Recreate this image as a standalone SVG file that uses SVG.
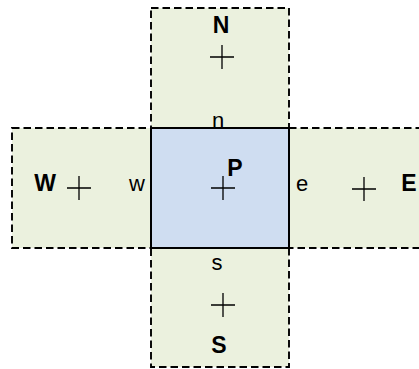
<svg xmlns="http://www.w3.org/2000/svg" width="419" height="369" viewBox="0 0 419 369">
  <style>
    .nb { fill: #EBF1DE; stroke: #000; stroke-width: 1.9; stroke-dasharray: 7.5 4; }
    .pc { fill: #CFDDF1; stroke: #000; stroke-width: 2; }
    .cross { stroke: #000; stroke-width: 1.3; fill: none; }
    .big { font-family: "Liberation Sans", Arial, sans-serif; font-weight: bold; font-size: 23px; fill: #000; }
    .face { font-family: "Liberation Sans", Arial, sans-serif; font-size: 22px; fill: #000; }
  </style>
  <defs>
    <path id="plus" d="M -12 0 H 12 M 0 -12 V 12"/>
  </defs>

  <!-- neighbouring cells -->
  <g id="cell-N">
    <rect class="nb" x="151" y="8" width="138" height="120"/>
    <use href="#plus" class="cross" x="222" y="57"/>
    <text class="big" x="221" y="33" text-anchor="middle">N</text>
  </g>
  <g id="cell-W">
    <rect class="nb" x="12" y="128" width="139" height="120"/>
    <use href="#plus" class="cross" x="79" y="188"/>
    <text class="big" x="45" y="191" text-anchor="middle">W</text>
  </g>
  <g id="cell-E">
    <rect class="nb" x="289" y="128" width="132" height="120"/>
    <use href="#plus" class="cross" x="364" y="189"/>
    <text class="big" x="409" y="191" text-anchor="middle">E</text>
  </g>
  <g id="cell-S">
    <rect class="nb" x="151" y="248" width="138" height="119"/>
    <use href="#plus" class="cross" x="223" y="305"/>
    <text class="big" x="219" y="353" text-anchor="middle">S</text>
  </g>

  <!-- central control volume -->
  <g id="cell-P">
    <rect class="pc" x="151" y="128" width="138" height="120"/>
    <use href="#plus" class="cross" x="223" y="188"/>
    <text class="big" x="235" y="176" text-anchor="middle">P</text>
  </g>

  <!-- face labels -->
  <g id="faces">
    <text class="face" x="218" y="128" text-anchor="middle">n</text>
    <text class="face" x="137" y="191" text-anchor="middle">w</text>
    <text class="face" x="302" y="191" text-anchor="middle">e</text>
    <text class="face" x="217" y="270" text-anchor="middle">s</text>
  </g>
</svg>
